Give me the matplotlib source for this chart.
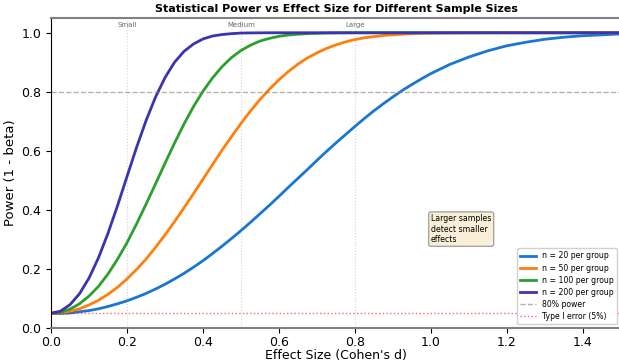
import matplotlib
matplotlib.use('Agg')
from matplotlib import pyplot as plt

# effect sizes (Cohen's d) and power
effect = [0.0, 0.025, 0.05, 0.075, 0.1, 0.125, 0.15, 0.175, 0.2, 0.225, 0.25,
          0.275, 0.3, 0.325, 0.35, 0.375, 0.4, 0.425, 0.45, 0.475, 0.5,
          0.525, 0.55, 0.575, 0.6, 0.625, 0.65, 0.675, 0.7, 0.725, 0.75,
          0.775, 0.8, 0.825, 0.85, 0.875, 0.9, 0.925, 0.95, 0.975, 1.0,
          1.05, 1.1, 1.15, 1.2, 1.25, 1.3, 1.35, 1.4, 1.45, 1.5]

power_n20 = [0.049, 0.049, 0.051, 0.055, 0.059, 0.065, 0.073, 0.082, 0.092, 0.104, 0.117,
             0.132, 0.148, 0.166, 0.185, 0.206, 0.228, 0.252, 0.277, 0.303, 0.330,
             0.358, 0.387, 0.416, 0.446, 0.477, 0.507, 0.537, 0.568, 0.598, 0.627,
             0.655, 0.683, 0.710, 0.736, 0.760, 0.783, 0.805, 0.825, 0.844, 0.862,
             0.893, 0.918, 0.939, 0.956, 0.968, 0.978, 0.985, 0.990, 0.993, 0.996]
power_n50 = [0.050, 0.051, 0.057, 0.065, 0.078, 0.094, 0.114, 0.138, 0.166, 0.198, 0.233,
             0.273, 0.315, 0.360, 0.407, 0.455, 0.504, 0.553, 0.602, 0.648, 0.693,
             0.735, 0.774, 0.809, 0.841, 0.869, 0.894, 0.915, 0.932, 0.947, 0.959,
             0.969, 0.977, 0.983, 0.987, 0.991, 0.993, 0.995, 0.997, 0.998, 0.9985,
             0.9994, 0.9997, 0.9999, 1.0, 1.0, 1.0, 1.0, 1.0, 1.0, 1.0]
power_n100 = [0.050, 0.053, 0.064, 0.082, 0.108, 0.141, 0.183, 0.233, 0.289, 0.352, 0.419,
              0.488, 0.558, 0.626, 0.691, 0.750, 0.802, 0.847, 0.885, 0.916, 0.940,
              0.958, 0.972, 0.981, 0.988, 0.9925, 0.995, 0.997, 0.998, 0.999, 0.9995,
              0.9997, 0.9999, 1.0, 1.0, 1.0, 1.0, 1.0, 1.0, 1.0, 1.0,
              1.0, 1.0, 1.0, 1.0, 1.0, 1.0, 1.0, 1.0, 1.0, 1.0]
power_n200 = [0.050, 0.057, 0.079, 0.116, 0.169, 0.238, 0.321, 0.414, 0.513, 0.611, 0.702,
              0.782, 0.848, 0.900, 0.937, 0.962, 0.979, 0.989, 0.994, 0.997, 0.999,
              0.9995, 0.9998, 1.0, 1.0, 1.0, 1.0, 1.0, 1.0, 1.0, 1.0,
              1.0, 1.0, 1.0, 1.0, 1.0, 1.0, 1.0, 1.0, 1.0, 1.0,
              1.0, 1.0, 1.0, 1.0, 1.0, 1.0, 1.0, 1.0, 1.0, 1.0]

series = [('n = 20 per group', power_n20, '#1976d2'),
          ('n = 50 per group', power_n50, '#ff7f0e'),
          ('n = 100 per group', power_n100, '#2ca02c'),
          ('n = 200 per group', power_n200, '#3a33b3')]

benchmarks = [0.2, 0.5, 0.8]
benchmark_names = ['Small', 'Medium', 'Large']

fig = plt.figure(figsize=(6.19, 3.63), dpi=100)
ax = fig.add_axes([51 / 619, 35 / 363, 570 / 619, 310 / 363])

for d, name in zip(benchmarks, benchmark_names):
    ax.axvline(d, color='lightgray', linestyle=':', linewidth=0.8, zorder=0)
    ax.text(d, 1.025, name, fontsize=5, color='dimgray', ha='center', va='center')

for label, power, color in series:
    ax.plot(effect, power, color=color, linewidth=2, label=label)

ax.axhline(0.8, color='gray', linestyle='--', linewidth=1, alpha=0.6, label='80% power')
ax.axhline(0.05, color='red', linestyle=':', linewidth=1, alpha=0.6, label='Type I error (5%)')

ax.text(1.0, 0.335, 'Larger samples\ndetect smaller\neffects', fontsize=5.6, va='center', ha='left',
        bbox=dict(boxstyle='round,pad=0.3', facecolor='wheat', alpha=0.5, edgecolor='#555555'))

ax.set_xlim(0, 1.5)
ax.set_ylim(0, 1.05)
ax.set_xticks([0.0, 0.2, 0.4, 0.6, 0.8, 1.0, 1.2, 1.4])
ax.tick_params(labelsize=9)
ax.tick_params(axis='x', pad=2.5)
ax.set_xlabel("Effect Size (Cohen's d)", fontsize=9, labelpad=0)
ax.set_ylabel('Power (1 - beta)', fontsize=9.5, labelpad=3)
ax.set_title('Statistical Power vs Effect Size for Different Sample Sizes',
             fontsize=8, fontweight='bold', pad=4)

for side in ['top', 'bottom', 'right']:
    ax.spines[side].set_color('gray')
    ax.spines[side].set_linewidth(1.5)
ax.spines['left'].set_color('black')

ax.legend(loc='lower right', fontsize=5.6, framealpha=0.9, labelspacing=0.4)

plt.savefig('out.png', dpi=100)
